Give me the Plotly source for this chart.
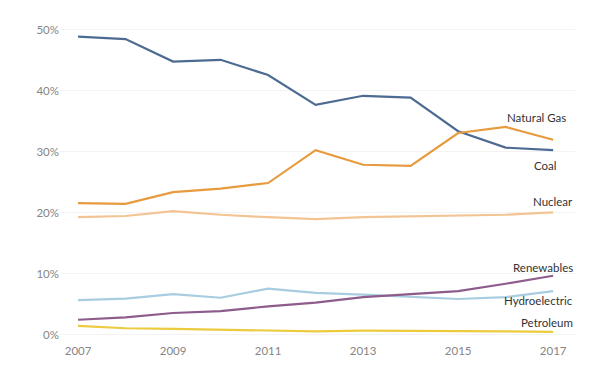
import plotly.graph_objects as go

years = list(range(2007, 2018))
coal = [48.9, 48.5, 44.8, 45.1, 42.6, 37.7, 39.2, 38.9, 33.4, 30.7, 30.3]
natural_gas = [21.6, 21.5, 23.4, 24.0, 24.9, 30.3, 27.9, 27.7, 33.1, 34.1, 32.0]
nuclear = [19.3, 19.5, 20.3, 19.7, 19.3, 19.0, 19.3, 19.4, 19.5, 19.7, 20.1]
hydroelectric = [5.7, 5.95, 6.7, 6.1, 7.6, 6.9, 6.6, 6.3, 5.9, 6.2, 7.2]
renewables = [2.5, 2.9, 3.6, 3.9, 4.7, 5.3, 6.2, 6.7, 7.2, 8.4, 9.7]
petroleum = [1.5, 1.1, 1.0, 0.9, 0.7, 0.6, 0.7, 0.7, 0.7, 0.6, 0.5]

series = [
    ("Coal", coal, "#4d6b92"),
    ("Natural Gas", natural_gas, "#e79a3e"),
    ("Nuclear", nuclear, "#f3c493"),
    ("Hydroelectric", hydroelectric, "#a8cde0"),
    ("Renewables", renewables, "#8d5b8c"),
    ("Petroleum", petroleum, "#eccb3f"),
]

labels = [
    ("Natural Gas", 35.7, 568),
    ("Coal", 27.7, 559),
    ("Nuclear", 21.8, 575),
    ("Renewables", 11.1, 575),
    ("Hydroelectric", 5.6, 575),
    ("Petroleum", 2.0, 575),
]

fig = go.Figure()
for name, vals, color in series:
    fig.add_trace(go.Scatter(x=years, y=vals, mode="lines", name=name,
                             line=dict(color=color, width=2.2)))

OFF = 8  # page body margin
L, R = 60 - OFF, 19
for text, yv, xr in labels:
    fig.add_annotation(text=text, x=(xr - OFF - L) / (594 - OFF - L - R), xref="paper",
                       y=yv, yref="y", xanchor="right", yanchor="middle",
                       showarrow=False, font=dict(size=11.5, color="#333333"))

fig.update_layout(
    width=594 - OFF, height=370 - OFF,
    margin=dict(l=L, r=R, t=25 - OFF, b=28),
    paper_bgcolor="white", plot_bgcolor="white",
    showlegend=False,
    font=dict(family="Lato, sans-serif", size=11.5, color="#858585"),
    xaxis=dict(range=[2006.62, 2017.46], tickvals=[2007, 2009, 2011, 2013, 2015, 2017],
               showgrid=False, zeroline=False, showline=False, ticks=""),
    yaxis=dict(range=[-1.15, 50.8], tickvals=[0, 10, 20, 30, 40, 50],
               ticktext=["0%", "10%", "20%", "30%", "40%", "50%"],
               showgrid=True, gridcolor="#f3f3f3", gridwidth=1,
               zeroline=False, showline=False, ticks=""),
)

fig.write_html("out.html")
